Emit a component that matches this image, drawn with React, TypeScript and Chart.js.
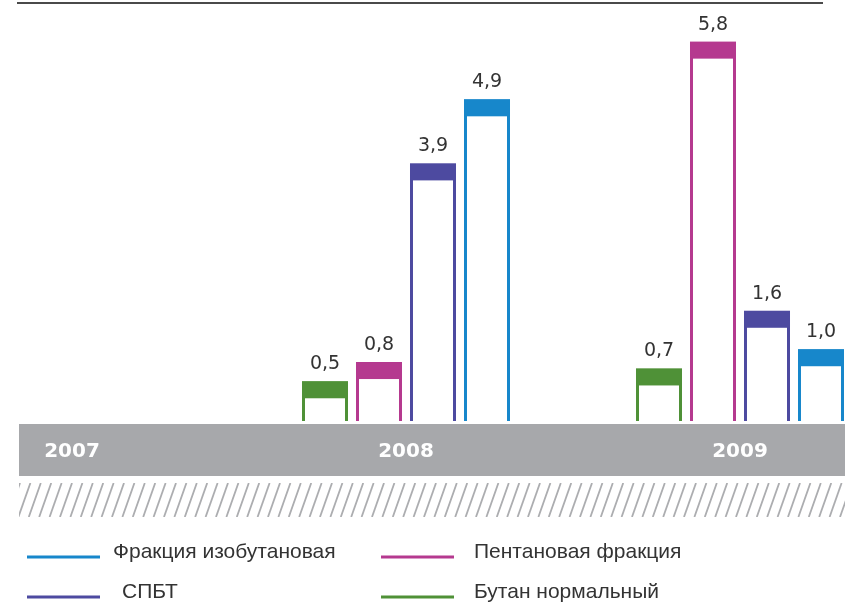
import React, { useEffect, useRef } from "react";
import { Chart, registerables } from "chart.js";

Chart.register(...registerables);

const years = ["2007", "2008", "2009"];
const butaneNormal = [null, 0.5, 0.7];
const pentaneFraction = [null, 0.8, 5.8];
const spbt = [null, 3.9, 1.6];
const isobutaneFraction = [null, 4.9, 1.0];

const seriesNames = ["Бутан нормальный", "Пентановая фракция", "СПБТ", "Фракция изобутановая"];
const seriesColors = ["#4f9137", "#b5398f", "#4d4aa0", "#1787cb"];

const Y_MIN = -0.12;
const Y_MAX = 6.2;

const fmt = (v: number) => v.toFixed(1).replace(".", ",");

export default function App() {
  const ref = useRef<HTMLCanvasElement | null>(null);

  useEffect(() => {
    document.body.style.margin = "0";
    const canvas = ref.current;
    if (!canvas) return;

    const decor = {
      id: "decor",
      beforeDraw(chart: any) {
        const ctx = chart.ctx;
        const W = chart.width;
        ctx.save();
        ctx.fillStyle = "#ffffff";
        ctx.fillRect(0, 0, W, chart.height);
        // top rule
        ctx.strokeStyle = "#4a4a4a";
        ctx.lineWidth = 2;
        ctx.beginPath();
        ctx.moveTo(17, 3);
        ctx.lineTo(823, 3);
        ctx.stroke();
        // gray band
        ctx.fillStyle = "#a7a8ab";
        ctx.fillRect(19, 424, W - 19, 52);
        // hatch
        ctx.save();
        ctx.beginPath();
        ctx.rect(19, 483, W - 19, 34);
        ctx.clip();
        ctx.strokeStyle = "#acadb0";
        ctx.lineWidth = 1.8;
        for (let x = 8; x < W + 14; x += 10.4) {
          ctx.beginPath();
          ctx.moveTo(x, 517);
          ctx.lineTo(x + 12, 483);
          ctx.stroke();
        }
        ctx.restore();
        // year labels
        const xs = chart.scales.x;
        ctx.fillStyle = "#ffffff";
        ctx.font = "bold 20px 'DejaVu Sans', sans-serif";
        ctx.textAlign = "center";
        ctx.textBaseline = "alphabetic";
        years.forEach((y, i) => {
          ctx.fillText(y, xs.getPixelForValue(i), 457);
        });
        // legend
        const legend = [
          { s: 3, lx: 27, ly: 557, tx: 113 },
          { s: 1, lx: 381, ly: 557, tx: 474 },
          { s: 2, lx: 27, ly: 597, tx: 122 },
          { s: 0, lx: 381, ly: 597, tx: 474 },
        ];
        ctx.font = "21px 'Liberation Sans', Arial, sans-serif";
        ctx.textAlign = "left";
        legend.forEach((l) => {
          ctx.strokeStyle = seriesColors[l.s];
          ctx.lineWidth = 3;
          ctx.beginPath();
          ctx.moveTo(l.lx, l.ly);
          ctx.lineTo(l.lx + 73, l.ly);
          ctx.stroke();
          ctx.fillStyle = "#333333";
          ctx.fillText(seriesNames[l.s], l.tx, l.ly + 1);
        });
        ctx.restore();
      },
      afterDatasetsDraw(chart: any) {
        const ctx = chart.ctx;
        ctx.save();
        ctx.font = "19px 'DejaVu Sans', sans-serif";
        ctx.textAlign = "center";
        ctx.textBaseline = "alphabetic";
        chart.data.datasets.forEach((ds: any, di: number) => {
          const meta = chart.getDatasetMeta(di);
          meta.data.forEach((el: any, i: number) => {
            const v = ds.data[i];
            if (v === null || v === undefined) return;
            const w = el.width;
            ctx.fillStyle = seriesColors[di];
            ctx.fillRect(el.x - w / 2, el.y, w, 17);
            ctx.fillStyle = "#333333";
            ctx.fillText(fmt(v), el.x, el.y - 12);
          });
        });
        ctx.restore();
      },
    };

    const mk = (label: string, data: (number | null)[], color: string) => ({
      label,
      data,
      backgroundColor: "#ffffff",
      borderColor: color,
      borderWidth: 3,
      borderSkipped: "bottom",
      base: Y_MIN,
      clip: false,
      categoryPercentage: 0.6467,
      barPercentage: 0.852,
    });

    const chart = new Chart(canvas, {
      type: "bar",
      data: {
        labels: years,
        datasets: [
          mk(seriesNames[0], butaneNormal, seriesColors[0]),
          mk(seriesNames[1], pentaneFraction, seriesColors[1]),
          mk(seriesNames[2], spbt, seriesColors[2]),
          mk(seriesNames[3], isobutaneFraction, seriesColors[3]),
        ] as any,
      },
      options: {
        animation: false,
        responsive: false,
        layout: { padding: { left: 72, right: 105, top: 16, bottom: 182 } },
        plugins: { legend: { display: false }, tooltip: { enabled: false } },
        scales: {
          x: { display: false, offset: false, grid: { offset: false } },
          y: { display: false, min: Y_MIN, max: Y_MAX },
        },
      },
      plugins: [decor],
    });
    return () => chart.destroy();
  }, []);

  return (
    <div style={{ width: 845, height: 603 }}>
      <canvas ref={ref} width={845} height={603} />
    </div>
  );
}
